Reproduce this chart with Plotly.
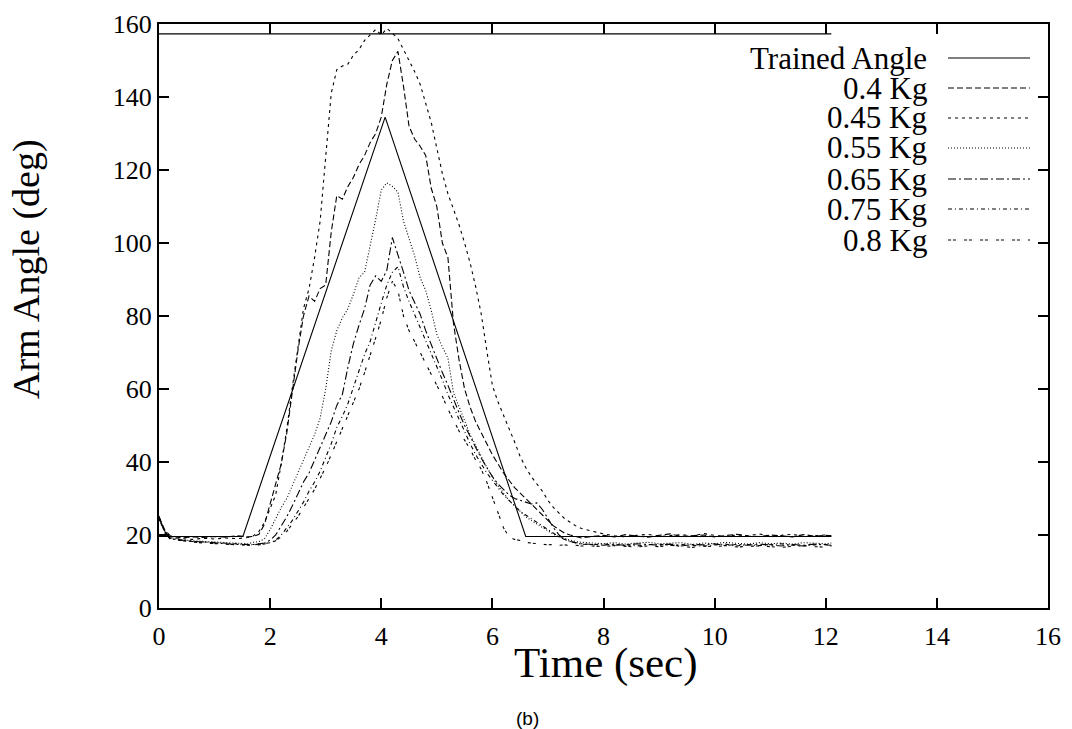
import plotly.graph_objects as go

SERIF = "Liberation Serif, Times New Roman, serif"
SANS = "Liberation Sans, Arial, sans-serif"
INK = "#000000"

# sample times (sec), shared by the measured curves
TIME = [
    0, 0.1, 0.2, 0.4, 0.6, 0.8, 1.0, 1.2, 1.4, 1.6,
    1.7, 1.8, 1.9, 2.0, 2.1, 2.2, 2.3, 2.4, 2.5, 2.6,
    2.7, 2.8, 2.9, 3.0, 3.1, 3.2, 3.3, 3.4, 3.5, 3.6,
    3.7, 3.8, 3.9, 4.0, 4.1, 4.2, 4.3, 4.4, 4.5, 4.6,
    4.7, 4.8, 4.9, 5.0, 5.1, 5.2, 5.3, 5.4, 5.5, 5.6,
    5.7, 5.8, 5.9, 6.0, 6.1, 6.2, 6.3, 6.4, 6.5, 6.6,
    6.7, 6.8, 6.9, 7.0, 7.1, 7.2, 7.3, 7.4, 7.5, 7.6,
    7.8, 8.0, 8.2, 8.4, 8.6, 8.8, 9.0, 9.2, 9.4, 9.6,
    9.8, 10.0, 10.2, 10.4, 10.6, 10.8, 11.0, 11.2, 11.4, 11.6,
    11.8, 12.0, 12.1,
]

# trained (reference) angle profile, plus the upper limit line
TRAINED_T = [0, 1.51, 4.07, 6.6, 12.1, None, 0, 12.1]
TRAINED_Y = [19.6, 19.6, 134.5, 19.6, 19.6, None, 157.3, 157.3]

KG_040 = [
    25.0, 21.5, 19.8, 19.2, 19.5, 19.3, 19.6, 19.4, 19.8, 19.5,
    19.6, 20.2, 23.0, 28.5, 33.5, 39.5, 48.0, 60.0, 70.5, 80.0,
    85.5, 84.0, 87.5, 88.5, 103.0, 113.0, 112.0, 115.5, 118.0, 121.5,
    124.0, 127.5, 130.0, 134.5, 143.5, 150.0, 152.5, 143.0, 132.0, 128.5,
    126.5, 124.0, 115.0, 110.0, 100.0, 96.0, 78.0, 68.0, 60.0, 55.0,
    51.0, 48.0, 45.0, 42.0, 39.5, 37.0, 35.0, 33.0, 31.5, 30.0,
    28.5, 27.0, 25.5, 24.0, 22.5, 21.5, 20.5, 20.0, 19.5, 19.2,
    19.6, 19.9, 19.5, 20.1, 19.7, 19.4, 19.9, 20.3, 19.6, 19.8,
    20.0, 19.5, 19.9, 20.2, 19.7, 19.6, 20.0, 19.8, 19.5, 20.1,
    19.7, 19.9, 19.8,
]
KG_045 = [
    24.5, 21.0, 19.5, 19.0, 18.8, 19.1, 18.9, 19.2, 19.0, 19.3,
    19.8, 21.0, 23.5, 27.0, 31.0, 39.5, 49.0, 60.5, 71.0, 82.0,
    87.5, 96.0, 106.0, 124.0, 141.0, 147.5, 148.5, 149.0, 151.5, 153.0,
    155.5, 157.0, 158.5, 157.0, 158.8, 157.5, 156.0, 153.0, 150.0, 147.0,
    143.5, 138.0, 133.0, 126.0, 119.0, 113.5, 109.5, 105.0, 100.0, 94.5,
    88.0, 80.5, 70.5, 61.0, 56.5, 53.0, 49.0, 45.5, 41.5, 38.5,
    36.0, 34.0, 32.0, 29.5, 27.5, 26.0, 24.5, 23.5, 22.5, 21.8,
    21.0, 20.3, 19.8, 19.5, 19.9, 20.2, 19.6, 19.8, 20.1, 19.7,
    20.4, 19.9, 19.6, 20.0, 19.8, 20.3, 19.7, 19.9, 20.2, 19.6,
    19.8, 20.0, 19.7,
]
KG_055 = [
    25.2, 21.2, 19.3, 18.7, 18.4, 18.2, 18.0, 17.9, 17.8, 17.6,
    18.0, 18.2, 19.0, 21.5, 24.5, 27.5, 30.0, 33.5, 37.0, 40.5,
    44.0, 47.5, 52.0, 60.0, 70.5, 76.0, 79.5, 82.0, 86.0, 90.5,
    92.0, 99.0, 106.5, 114.5, 116.5, 115.5, 114.0, 106.0, 101.0, 96.5,
    90.5, 87.0, 81.5, 75.0, 71.5, 68.5, 59.0, 55.0, 51.0, 47.5,
    44.5, 41.5, 38.5, 36.0, 33.5, 31.5, 29.5, 28.0, 26.5, 25.0,
    24.0, 23.0, 22.0, 21.0, 20.2, 19.5, 19.0, 18.5, 18.2, 18.0,
    17.9, 17.6, 17.9, 17.5, 17.8, 18.0, 17.6, 17.7, 17.9, 17.4,
    17.8, 17.6, 18.0, 17.7, 17.5, 17.9, 17.6, 17.8, 17.5, 17.9,
    17.7, 17.6, 17.8,
]
KG_065 = [
    24.8, 20.8, 19.0, 18.5, 18.3, 18.0, 17.7, 17.6, 17.4, 17.3,
    17.4, 17.6, 17.8, 18.6, 20.0, 22.5, 25.0, 28.0, 31.5, 34.5,
    37.0, 40.5, 43.5, 47.0, 51.0, 55.5, 58.5, 66.0, 72.5, 77.5,
    82.0, 88.5, 91.0, 89.5, 92.5, 101.5, 97.0, 92.0, 87.0, 83.5,
    80.5, 76.0, 72.0, 68.5, 64.5, 61.0, 57.0, 53.5, 50.0, 47.0,
    44.0, 41.0, 38.5, 36.0, 34.0, 32.5, 31.0, 30.0, 29.5, 29.0,
    28.5, 28.8, 27.0, 24.5, 22.0, 20.0, 18.8, 18.2, 17.8, 17.6,
    17.4, 17.2, 17.5, 17.1, 17.6, 17.3, 17.2, 17.5, 17.0, 17.4,
    17.3, 17.6, 17.1, 17.4, 17.2, 17.5, 17.3, 17.0, 17.4, 17.2,
    17.5, 17.3, 17.2,
]
KG_075 = [
    25.0, 21.0, 19.1, 18.6, 18.2, 18.1, 17.9, 17.7, 17.5, 17.4,
    17.3, 17.5, 17.6, 17.9, 18.6, 20.0, 22.0, 24.0, 26.5, 29.0,
    32.0, 34.5, 37.5, 41.0, 45.0, 49.5, 52.5, 56.0, 60.5, 65.0,
    69.5, 73.0, 78.5, 83.5, 88.5, 92.0, 93.5, 88.0, 84.0, 80.5,
    77.0, 73.5, 70.0, 66.0, 62.5, 58.5, 55.0, 51.5, 48.0, 45.0,
    42.0, 39.5, 37.0, 35.0, 33.0, 31.0, 29.5, 28.0, 26.5, 25.5,
    24.5, 23.5, 22.5, 21.5, 20.5, 19.5, 18.8, 18.2, 17.8, 17.5,
    17.3, 17.6, 17.2, 17.4, 17.0, 17.3, 17.5, 17.1, 17.4, 17.2,
    16.9, 17.3, 17.5, 17.0, 17.4, 17.1, 17.3, 17.6, 17.2, 17.0,
    17.3, 17.4, 17.1,
]
KG_080 = [
    24.6, 20.6, 18.9, 18.4, 18.1, 17.8, 17.6, 17.5, 17.2, 17.1,
    17.1, 17.3, 17.5, 17.8, 18.4, 19.5, 21.0, 23.0, 25.0, 27.5,
    30.0, 32.5, 35.5, 38.5, 42.0, 45.5, 49.0, 52.5, 56.0, 60.0,
    64.5, 69.0, 74.0, 79.0, 85.0, 89.5, 87.0, 80.0, 76.0, 73.0,
    70.0, 67.0, 64.0, 61.0, 58.0, 54.5, 51.5, 48.5, 46.0, 43.5,
    40.5, 38.0, 34.5, 30.5, 26.5, 22.0, 19.5, 18.8, 18.5, 18.0,
    17.8, 17.6, 17.5, 17.3, 17.4, 17.2, 17.3, 17.1, 17.2, 17.0,
    17.0, 16.8, 17.1, 16.9, 16.7, 17.0, 16.8, 17.2, 16.9, 16.6,
    17.0, 16.8, 17.1, 16.7, 16.9, 17.0, 16.8, 16.6, 16.9, 17.1,
    16.8, 16.7, 16.9,
]

SERIES = [
    ("0.4 Kg", KG_040, "6px,3px"),
    ("0.45 Kg", KG_045, "3px,4px"),
    ("0.55 Kg", KG_055, "1px,2px"),
    ("0.65 Kg", KG_065, "8px,3px,2px,3px"),
    ("0.75 Kg", KG_075, "4px,3px,1px,3px"),
    ("0.8 Kg", KG_080, "3px,2px,3px,8px"),
]

# the page body adds an 8px margin, so positions below are page px minus 8
PAGE_OFFSET = 8
W, H = 1064, 721
LEFT, RIGHT, TOP, BOTTOM = 159 - 8, 1048 - 8, 24 - 8, 608 - 8


def _px_to_paper(px, py):
    """Page pixel position -> paper coordinates of the plot area."""
    px -= PAGE_OFFSET
    py -= PAGE_OFFSET
    return (px - LEFT) / (RIGHT - LEFT), (BOTTOM - py) / (BOTTOM - TOP)


def _axis(**extra):
    axis = dict(
        showgrid=False,
        zeroline=False,
        showline=True,
        linecolor=INK,
        linewidth=2,
        mirror="ticks",
        ticks="inside",
        ticklen=10,
        tickwidth=2,
        tickcolor=INK,
        tickfont=dict(family=SERIF, size=26, color=INK),
        automargin=False,
    )
    axis.update(extra)
    return axis


fig = go.Figure()
fig.add_trace(
    go.Scatter(
        x=TRAINED_T, y=TRAINED_Y, mode="lines", name="Trained Angle",
        line=dict(color=INK, width=1.1), connectgaps=False,
    )
)
for name, values, dash in SERIES:
    fig.add_trace(
        go.Scatter(
            x=TIME, y=values, mode="lines", name=name,
            line=dict(color=INK, width=1.1, dash=dash),
        )
    )

# gnuplot style key: right-aligned labels, line samples to the right
legend_rows = [("Trained Angle", "solid")] + [(n, d) for n, _, d in SERIES]
row_y = [58, 88, 118, 148, 179, 209, 240]
for (label, dash), py in zip(legend_rows, row_y):
    tx, ty = _px_to_paper(929, py)
    fig.add_annotation(
        text=label, x=tx, y=ty, xref="paper", yref="paper",
        xanchor="right", yanchor="middle", showarrow=False,
        font=dict(family=SERIF, size=31, color=INK),
    )
    x0, _ = _px_to_paper(948, py)
    x1, _ = _px_to_paper(1030, py)
    fig.add_shape(
        type="line", xref="paper", yref="paper", x0=x0, x1=x1, y0=ty, y1=ty,
        line=dict(color=INK, width=1.1, dash=dash),
    )

ax, ay = _px_to_paper(26, 269)
fig.add_annotation(
    text="Arm Angle (deg)", x=ax, y=ay, xref="paper", yref="paper",
    textangle=-90, showarrow=False, xanchor="center", yanchor="middle",
    font=dict(family=SERIF, size=38, color=INK),
)
bx, by = _px_to_paper(606, 663)
fig.add_annotation(
    text="Time (sec)", x=bx, y=by, xref="paper", yref="paper",
    showarrow=False, xanchor="center", yanchor="middle",
    font=dict(family=SERIF, size=43, color=INK),
)
cx, cy = _px_to_paper(527, 718)
fig.add_annotation(
    text="(b)", x=cx, y=cy, xref="paper", yref="paper",
    showarrow=False, xanchor="center", yanchor="middle",
    font=dict(family=SANS, size=19, color=INK),
)

fig.update_layout(
    width=W,
    height=H,
    margin=dict(l=LEFT, r=W - RIGHT, t=TOP, b=H - BOTTOM, pad=0),
    paper_bgcolor="white",
    plot_bgcolor="white",
    showlegend=False,
    xaxis=_axis(range=[0, 16], dtick=2, tick0=0, ticklabelstandoff=4),
    yaxis=_axis(range=[0, 160], dtick=20, tick0=0, ticklabelstandoff=0),
)

fig.write_html("out.html")
